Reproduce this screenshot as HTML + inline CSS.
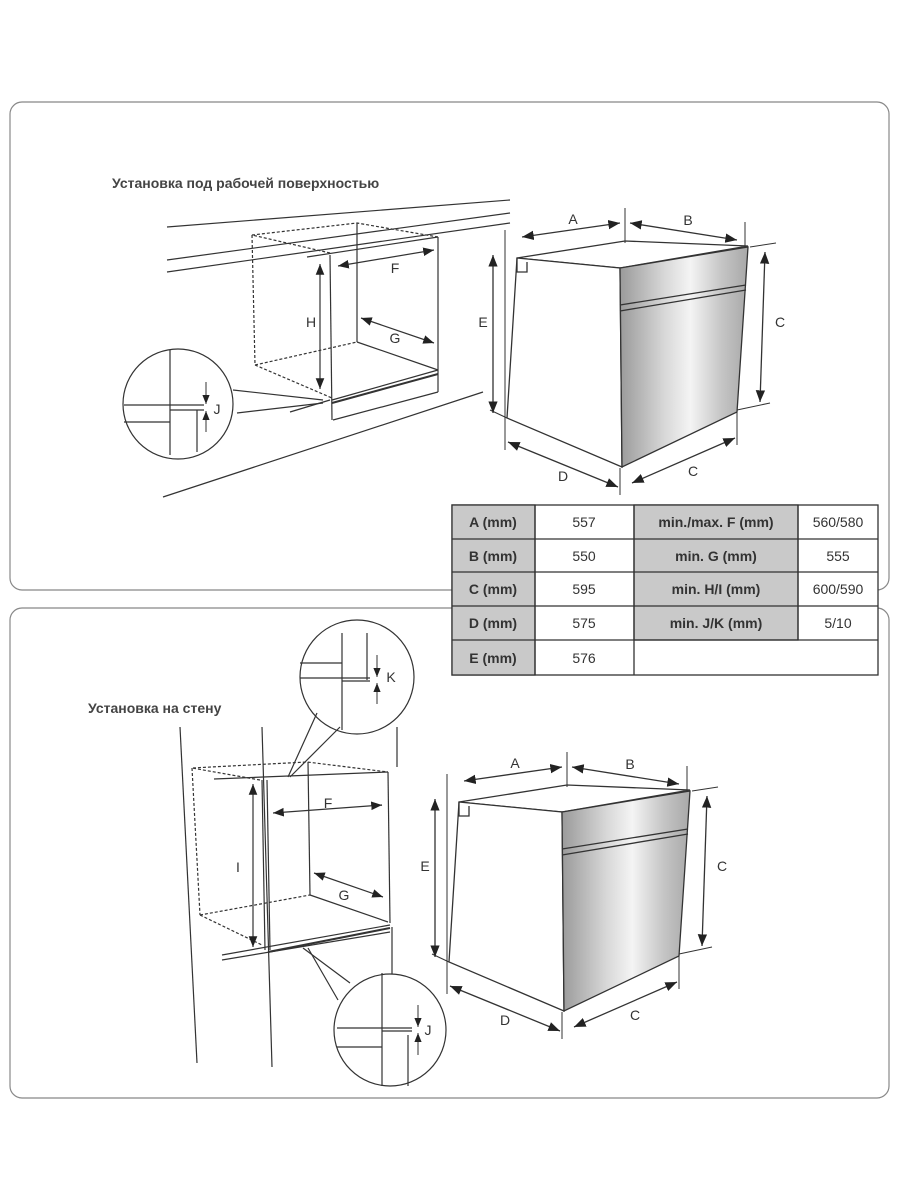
<!DOCTYPE html>
<html><head><meta charset="utf-8"><style>
body{margin:0;background:#fff;}
svg{display:block;font-family:"Liberation Sans",Arial,sans-serif;}
</style></head><body>
<svg width="900" height="1200" viewBox="0 0 900 1200" xmlns="http://www.w3.org/2000/svg">
<defs>
<linearGradient id="met" x1="0" y1="0" x2="1" y2="0">
<stop offset="0" stop-color="#9a9a9a"/><stop offset="0.35" stop-color="#d8d8d8"/><stop offset="0.55" stop-color="#f4f4f4"/><stop offset="0.8" stop-color="#c4c4c4"/><stop offset="1" stop-color="#a8a8a8"/>
</linearGradient>
<marker id="ah" viewBox="0 0 10 10" refX="10" refY="5" markerWidth="9" markerHeight="9" orient="auto-start-reverse"><path d="M0,1 L10,5 L0,9 z" fill="#222"/></marker>
<g id="oven" stroke="#333" stroke-width="1.3" fill="none">
<polygon points="517,258 625,241 748,246 620,268" fill="#fff"/>
<polygon points="517,258 620,268 622,467 507,418" fill="#fff"/>
<polygon points="620,268 748,247 737,412 622,467" fill="url(#met)"/>
<line x1="620" y1="305" x2="746" y2="285"/><line x1="620" y1="311" x2="746" y2="290"/>
<polyline points="517,258 517,272 527,272 527,262"/>
<line x1="505" y1="230" x2="505" y2="450" stroke-width="1"/>
<line x1="625" y1="208" x2="625" y2="243" stroke-width="1"/>
<line x1="745" y1="222" x2="745" y2="247" stroke-width="1"/>
<line x1="620" y1="468" x2="620" y2="495" stroke-width="1"/>
<line x1="737" y1="410" x2="737" y2="445" stroke-width="1"/>
<line x1="750" y1="247" x2="776" y2="243" stroke-width="1"/>
<line x1="737" y1="410" x2="770" y2="403" stroke-width="1"/>
<line x1="490" y1="410" x2="507" y2="418" stroke-width="1"/>
<line x1="522" y1="237" x2="620" y2="223" marker-start="url(#ah)" marker-end="url(#ah)"/>
<line x1="630" y1="223" x2="737" y2="240" marker-start="url(#ah)" marker-end="url(#ah)"/>
<line x1="765" y1="252" x2="760" y2="402" marker-start="url(#ah)" marker-end="url(#ah)"/>
<line x1="493" y1="255" x2="493" y2="413" marker-start="url(#ah)" marker-end="url(#ah)"/>
<line x1="508" y1="442" x2="618" y2="487" marker-start="url(#ah)" marker-end="url(#ah)"/>
<line x1="632" y1="483" x2="735" y2="438" marker-start="url(#ah)" marker-end="url(#ah)"/>
<g fill="#333" stroke="none" font-size="14" text-anchor="middle">
<text x="573" y="224">A</text><text x="688" y="225">B</text><text x="780" y="327">C</text>
<text x="483" y="327">E</text><text x="563" y="481">D</text><text x="693" y="476">C</text>
</g>
</g>
</defs>

<rect x="10" y="102" width="879" height="488" rx="12" fill="none" stroke="#888" stroke-width="1.2"/>
<rect x="10" y="608" width="879" height="490" rx="12" fill="none" stroke="#888" stroke-width="1.2"/>

<text x="112" y="188" font-size="14" font-weight="bold" fill="#444">Установка под рабочей поверхностью</text>
<text x="88" y="713" font-size="14" font-weight="bold" fill="#444">Установка на стену</text>

<g stroke="#333" stroke-width="1.2" fill="none">
<line x1="167" y1="227" x2="510" y2="200"/>
<line x1="167" y1="260" x2="510" y2="213"/>
<line x1="167" y1="272" x2="510" y2="223"/>
<line x1="163" y1="497" x2="483" y2="392"/>
<g stroke-dasharray="3,2"><polyline points="330,253 252,235 357,223 438,237"/><line x1="252" y1="235" x2="255" y2="365"/><line x1="255" y1="365" x2="332" y2="398"/><line x1="255" y1="365" x2="357" y2="342"/></g>
<line x1="307" y1="257" x2="438" y2="237"/>
<line x1="330" y1="255" x2="332" y2="420"/>
<line x1="438" y1="237" x2="438" y2="392"/>
<line x1="357" y1="223" x2="357" y2="342"/>
<line x1="357" y1="342" x2="438" y2="370"/>
<line x1="332" y1="400" x2="438" y2="370"/>
<line x1="332" y1="403" x2="438" y2="374" stroke-width="2"/>
<line x1="333" y1="420" x2="438" y2="392"/>
<line x1="290" y1="412" x2="330" y2="400"/>
<line x1="320" y1="264" x2="320" y2="389" marker-start="url(#ah)" marker-end="url(#ah)"/>
<line x1="338" y1="266" x2="434" y2="250" marker-start="url(#ah)" marker-end="url(#ah)"/>
<line x1="361" y1="318" x2="434" y2="343" marker-start="url(#ah)" marker-end="url(#ah)"/>
<circle cx="178" cy="404" r="55" fill="#fff"/>
<line x1="233" y1="390" x2="323" y2="400"/><line x1="237" y1="413" x2="323" y2="403"/>
<line x1="170" y1="350" x2="170" y2="455"/>
<line x1="124" y1="405" x2="204" y2="405"/>
<line x1="124" y1="422" x2="170" y2="422"/>
<line x1="170" y1="410" x2="204" y2="410"/>
<line x1="197" y1="410" x2="197" y2="452"/>
<line x1="206" y1="382" x2="206" y2="404" marker-end="url(#ah)" stroke-width="1"/>
<line x1="206" y1="432" x2="206" y2="411" marker-end="url(#ah)" stroke-width="1"/>
</g>
<g fill="#333" font-size="14" text-anchor="middle">
<text x="395" y="273">F</text><text x="395" y="343">G</text><text x="311" y="327">H</text><text x="217" y="414">J</text>
</g>

<use href="#oven"/>
<use href="#oven" transform="translate(-58,544)"/>

<g stroke="#333" stroke-width="1.2" fill="none">
<line x1="180" y1="727" x2="197" y2="1063"/>
<line x1="262" y1="727" x2="272" y2="1067"/>
<line x1="397" y1="727" x2="397" y2="767"/>
<line x1="392" y1="927" x2="392" y2="983"/>
<g stroke-dasharray="3,2"><polyline points="260,780 192,768 307,762 388,772"/><line x1="192" y1="768" x2="200" y2="915"/><line x1="200" y1="915" x2="262" y2="945"/><line x1="200" y1="915" x2="310" y2="895"/></g>
<line x1="214" y1="779" x2="388" y2="772"/>
<line x1="262" y1="780" x2="265" y2="950"/>
<line x1="267" y1="780" x2="270" y2="950"/>
<line x1="388" y1="772" x2="390" y2="923"/>
<line x1="308" y1="762" x2="310" y2="895"/>
<line x1="310" y1="895" x2="388" y2="922"/>
<line x1="222" y1="955" x2="390" y2="925"/>
<line x1="222" y1="960" x2="390" y2="932"/>
<line x1="268" y1="952" x2="390" y2="928" stroke-width="2"/>
<line x1="253" y1="784" x2="253" y2="947" marker-start="url(#ah)" marker-end="url(#ah)"/>
<line x1="273" y1="813" x2="382" y2="805" marker-start="url(#ah)" marker-end="url(#ah)"/>
<line x1="314" y1="873" x2="383" y2="897" marker-start="url(#ah)" marker-end="url(#ah)"/>
<circle cx="357" cy="677" r="57" fill="#fff"/>
<line x1="317" y1="713" x2="288" y2="777"/><line x1="340" y1="727" x2="290" y2="777"/>
<line x1="342" y1="633" x2="342" y2="730"/>
<line x1="367" y1="633" x2="367" y2="680"/>
<line x1="300" y1="663" x2="342" y2="663"/>
<line x1="300" y1="678" x2="370" y2="678"/>
<line x1="342" y1="681" x2="370" y2="681"/>
<line x1="377" y1="655" x2="377" y2="677" marker-end="url(#ah)" stroke-width="1"/>
<line x1="377" y1="704" x2="377" y2="683" marker-end="url(#ah)" stroke-width="1"/>
<circle cx="390" cy="1030" r="56" fill="#fff"/>
<line x1="303" y1="948" x2="350" y2="983"/><line x1="308" y1="948" x2="338" y2="1000"/>
<line x1="382" y1="973" x2="382" y2="1086"/>
<line x1="408" y1="1035" x2="408" y2="1086"/>
<line x1="337" y1="1028" x2="412" y2="1028"/>
<line x1="382" y1="1031" x2="412" y2="1031"/>
<line x1="337" y1="1047" x2="382" y2="1047"/>
<line x1="418" y1="1005" x2="418" y2="1027" marker-end="url(#ah)" stroke-width="1"/>
<line x1="418" y1="1055" x2="418" y2="1033" marker-end="url(#ah)" stroke-width="1"/>
</g>
<g fill="#333" font-size="14" text-anchor="middle">
<text x="328" y="808">F</text><text x="344" y="900">G</text><text x="238" y="872">I</text><text x="391" y="682">K</text><text x="428" y="1035">J</text>
</g>

<g stroke="#333" stroke-width="1.3">
<rect x="452" y="505" width="426" height="170" fill="#fff"/>
<rect x="452" y="505" width="83" height="170" fill="#c9c9c9"/>
<rect x="634" y="505" width="164" height="135" fill="#c9c9c9"/>
<line x1="535" y1="505" x2="535" y2="675"/><line x1="634" y1="505" x2="634" y2="675"/><line x1="798" y1="505" x2="798" y2="640"/>
<line x1="452" y1="539" x2="878" y2="539"/><line x1="452" y1="572" x2="878" y2="572"/><line x1="452" y1="606" x2="878" y2="606"/><line x1="452" y1="640" x2="878" y2="640"/>
</g>
<g font-size="14" fill="#333" text-anchor="middle">
<g font-weight="bold"><text x="493" y="527">A (mm)</text><text x="493" y="561">B (mm)</text><text x="493" y="594">C (mm)</text><text x="493" y="628">D (mm)</text><text x="493" y="663">E (mm)</text>
<text x="716" y="527">min./max. F (mm)</text><text x="716" y="561">min. G (mm)</text><text x="716" y="594">min. H/I (mm)</text><text x="716" y="628">min. J/K (mm)</text></g>
<text x="584" y="527">557</text><text x="584" y="561">550</text><text x="584" y="594">595</text><text x="584" y="628">575</text><text x="584" y="663">576</text>
<text x="838" y="527">560/580</text><text x="838" y="561">555</text><text x="838" y="594">600/590</text><text x="838" y="628">5/10</text>
</g>
</svg>
</body></html>
